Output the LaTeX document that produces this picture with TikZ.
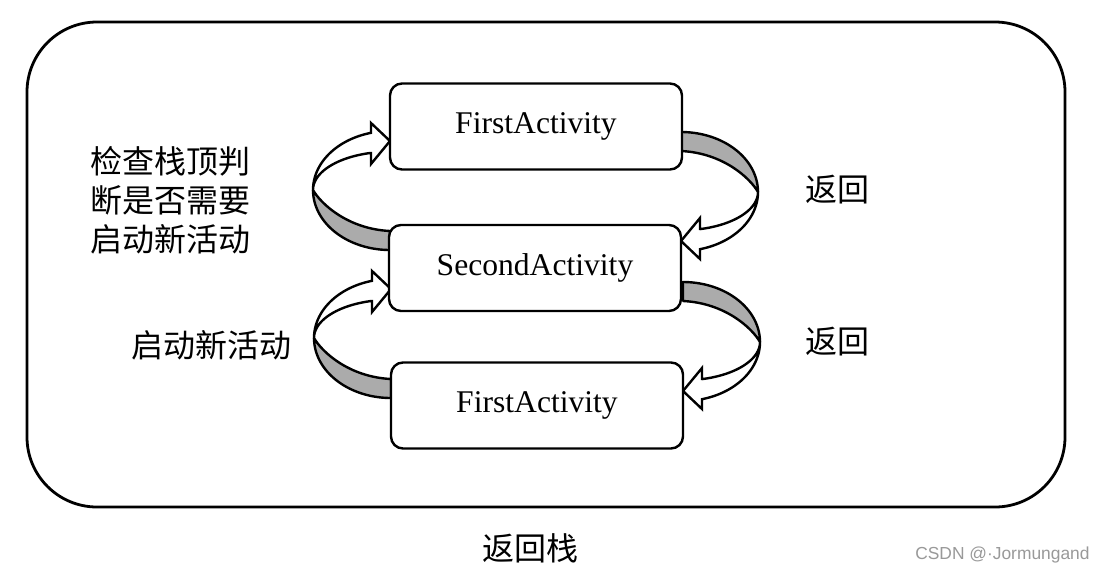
\documentclass[tikz,border=0pt]{standalone}
\usepackage{fontspec}
\setmainfont{Liberation Serif}
\newfontfamily\cjk{Noto Sans CJK SC}
\newfontfamily\wmfont{Liberation Sans}
\newcommand\ribbonarrow{%
  \filldraw[ribgrey] plot[domain=180:90,samples=40] ({77+77*cos(\x)},{60*sin(\x)})
    -- (77,41) .. controls (35,39) and (8,14) .. (0,0) -- cycle;
  \filldraw[ribwhite] plot[domain=180:255.7,samples=40] ({77+77*cos(\x)},{59*sin(\x)})
    -- (58,-67) -- (77,-49) -- (58,-26) -- (58,-37)
    -- plot[domain=255.3:180,samples=40] ({77+77*cos(\x)},{38.3*sin(\x)}) -- cycle;
}
\begin{document}
\begin{tikzpicture}[x=0.5pt,y=-0.5pt,
  actbox/.style={draw, line width=1.2pt, rounded corners=6pt, minimum width=146pt,
    minimum height=43pt, inner sep=0pt, fill=white,
    font=\fontsize{15.8pt}{18pt}\selectfont},
  ribgrey/.style={fill=black!33, draw=black, line width=1.2pt, line join=round},
  ribwhite/.style={fill=white, draw=black, line width=1.2pt, line join=miter},
  cjklabel/.style={inner sep=0pt, font=\cjk\fontsize{16pt}{19.5pt}\selectfont},
  frame/.style={draw, line width=1.4pt, rounded corners=35pt}]
\useasboundingbox (0,0) rectangle (1103,580);
\fill[white] (0,0) rectangle (1103,580);
\draw[frame] (27,22) rectangle (1065,507);
\begin{scope}[shift={(313,190)}]\ribbonarrow\end{scope}
\begin{scope}[shift={(314,338)}]\ribbonarrow\end{scope}
\begin{scope}[shift={(758,192)},rotate=180]\ribbonarrow\end{scope}
\begin{scope}[shift={(760,342)},rotate=180]\ribbonarrow\end{scope}
\node[actbox] (fa1) at (536,126.5) {FirstActivity};
\node[actbox] (sa) at (535,268) {SecondActivity};
\node[actbox] (fa2) at (537,405.5) {FirstActivity};
\node[cjklabel, anchor=west, align=left] (check) at (90,200) {检查栈顶判\\断是否需要\\启动新活动};
\node[cjklabel, anchor=west] (start) at (131,345) {启动新活动};
\node[cjklabel, anchor=west] (back1) at (805,190) {返回};
\node[cjklabel, anchor=west] (back2) at (805,342) {返回};
\node[cjklabel] (stack) at (530,548) {返回栈};
\node[inner sep=0pt, anchor=east, text=black!40, font=\wmfont\fontsize{8.7pt}{10pt}\selectfont] (wm) at (1090,555) {CSDN @·Jormungand};
\end{tikzpicture}
\end{document}
